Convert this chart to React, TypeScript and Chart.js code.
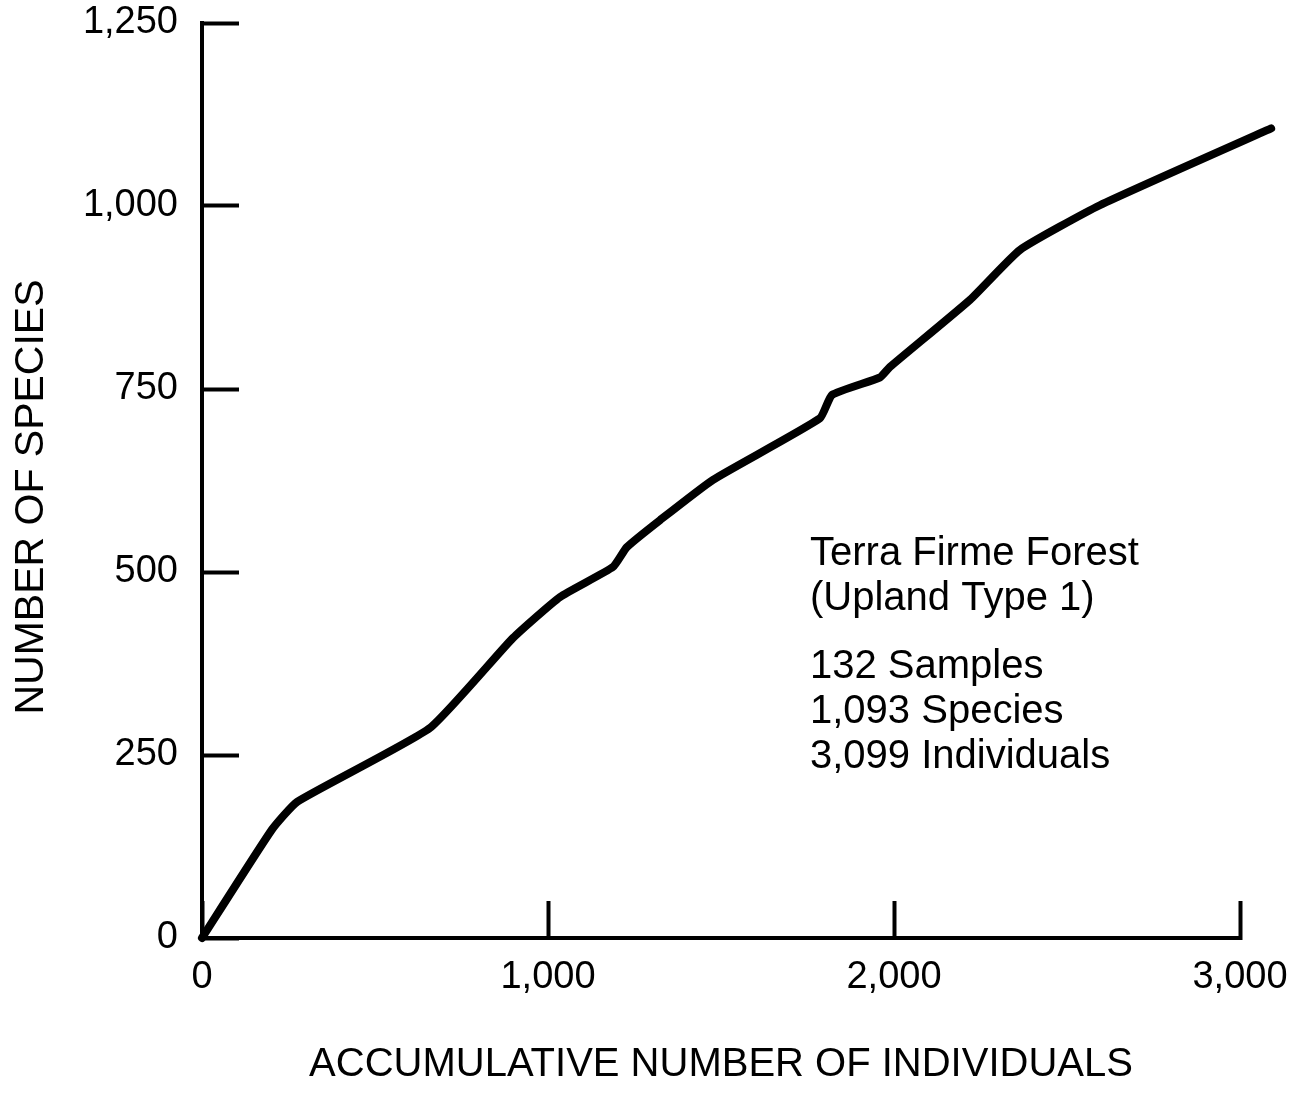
import React, { useEffect, useRef } from "react";
import { Chart, registerables } from "chart.js";

Chart.register(...registerables);

// ---- data ----
const individuals = [0, 202, 275, 659, 899, 1035, 1188, 1228, 1324, 1477, 1786, 1821, 1960, 1988, 2220, 2364, 2595, 3090];
const species = [0, 148, 186, 287, 410, 466, 507, 534, 571, 626, 710, 742, 766, 780, 872, 940, 1001, 1106];
const xTickValues = [0, 1000, 2000, 3000];
const yTickValues = [0, 250, 500, 750, 1000, 1250];
const xTitle = "ACCUMULATIVE NUMBER OF INDIVIDUALS";
const yTitle = "NUMBER OF SPECIES";
const noteHead = ["Terra Firme Forest", "(Upland Type 1)"];
const noteStats = ["132 Samples", "1,093 Species", "3,099 Individuals"];

const FONT = "'Liberation Sans', Arial, Helvetica, sans-serif";

const textPlugin = {
  id: "textPlugin",
  afterDraw(chart: any) {
    const ctx = chart.ctx;
    ctx.save();
    ctx.fillStyle = "#000";
    // y axis title
    ctx.font = `41px ${FONT}`;
    ctx.textAlign = "center";
    ctx.textBaseline = "middle";
    ctx.translate(32, 497);
    ctx.rotate(-Math.PI / 2);
    ctx.fillText(yTitle, 0, 0);
    ctx.restore();

    ctx.save();
    ctx.fillStyle = "#000";
    ctx.font = `40px ${FONT}`;
    ctx.textAlign = "left";
    ctx.textBaseline = "alphabetic";
    const x = 810;
    const headBase = [565, 610];
    const statBase = [678, 723, 768];
    noteHead.forEach((t, i) => ctx.fillText(t, x, headBase[i]));
    noteStats.forEach((t, i) => ctx.fillText(t, x, statBase[i]));
    ctx.restore();
  },
};

const zeroPad = (s: any) => {
  s.paddingTop = 0;
  s.paddingBottom = 0;
  s.paddingLeft = 0;
  s.paddingRight = 0;
};

export default function App() {
  const ref = useRef<HTMLCanvasElement | null>(null);

  useEffect(() => {
    if (!ref.current) return;
    const chart = new Chart(ref.current, {
      type: "line",
      data: {
        datasets: [
          {
            data: individuals.map((v, i) => ({ x: v, y: species[i] })),
            borderColor: "#000",
            borderWidth: 8,
            pointRadius: 0,
            tension: 0.15,
            borderJoinStyle: "round",
            borderCapStyle: "round",
            fill: false,
            clip: false as any,
          },
        ],
      },
      plugins: [textPlugin],
      options: {
        animation: false,
        responsive: false,
        devicePixelRatio: 1,
        events: [],
        layout: { padding: { left: 0, right: 54, top: 23, bottom: 0 } },
        plugins: {
          legend: { display: false },
          tooltip: { enabled: false },
          title: { display: false },
        },
        scales: {
          x: {
            type: "linear",
            min: 0,
            max: 3000,
            afterBuildTicks: (s: any) => {
              s.ticks = xTickValues.map((v) => ({ value: v }));
            },
            afterFit: (s: any) => {
              s.height = 155;
              zeroPad(s);
            },
            grid: {
              display: true,
              drawOnChartArea: false,
              drawTicks: true,
              tickLength: -37,
              tickWidth: 4,
              tickColor: "#000",
            },
            border: { display: true, color: "#000", width: 4 },
            ticks: {
              color: "#000",
              font: { family: FONT, size: 38 },
              padding: 54,
              maxRotation: 0,
              autoSkip: false,
              callback: (v: any) => Number(v).toLocaleString("en-US"),
            },
            title: {
              display: true,
              text: xTitle,
              color: "#000",
              font: { family: FONT, size: 40 },
              padding: { top: 0, bottom: 4 },
            },
          },
          y: {
            type: "linear",
            min: 0,
            max: 1250,
            afterBuildTicks: (s: any) => {
              s.ticks = yTickValues.map((v) => ({ value: v }));
            },
            afterFit: (s: any) => {
              s.width = 202;
              zeroPad(s);
            },
            grid: {
              display: true,
              drawOnChartArea: false,
              drawTicks: true,
              tickLength: -37,
              tickWidth: 4,
              tickColor: "#000",
            },
            border: { display: true, color: "#000", width: 4 },
            ticks: {
              color: "#000",
              font: { family: FONT, size: 38 },
              padding: 61,
              autoSkip: false,
              callback: (v: any) => Number(v).toLocaleString("en-US"),
            },
          },
        },
      } as any,
    });
    return () => chart.destroy();
  }, []);

  return (
    <div style={{ position: "absolute", left: 0, top: 0, width: 1294, height: 1093, background: "#fff" }}>
      <canvas ref={ref} width={1294} height={1093} style={{ display: "block" }} />
    </div>
  );
}
